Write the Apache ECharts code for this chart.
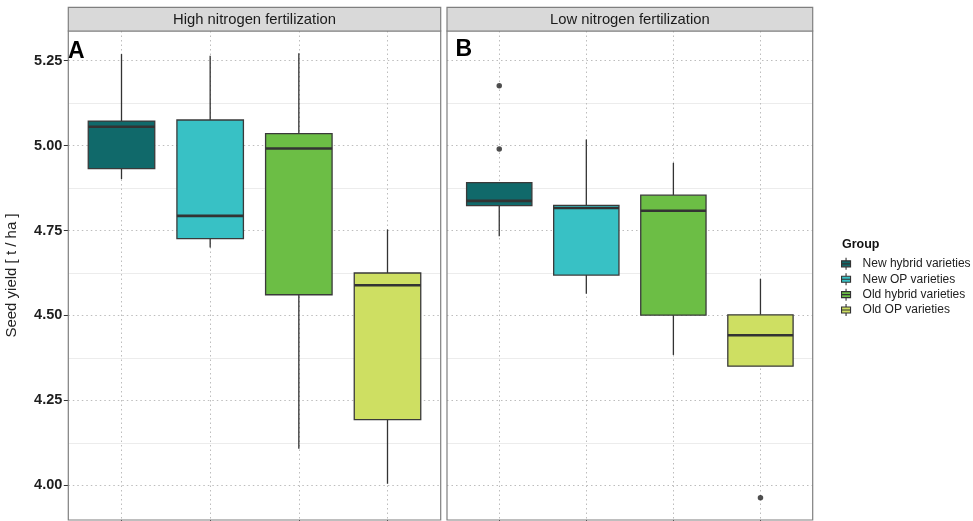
<!DOCTYPE html>
<html>
<head>
<meta charset="utf-8">
<script src="https://cdn.jsdelivr.net/npm/echarts@6/dist/echarts.min.js"></script>
<style>html,body{margin:0;padding:0;background:#fff;}#chart{width:973px;height:521px;}</style>
</head>
<body>
<div id="chart"></div>
<script>
// ---- data ----
const groups = ['New hybrid varieties', 'New OP varieties', 'Old hybrid varieties', 'Old OP varieties'];
const groupColors = ['#10696A', '#38C1C5', '#6CBE45', '#CEDF62'];
const panels = ['High nitrogen fertilization', 'Low nitrogen fertilization'];
const panelTags = ['A', 'B'];
// [min, Q1, median, Q3, max] per group
const highBoxes = [
  [4.901, 4.932, 5.055, 5.072, 5.269],
  [4.700, 4.726, 4.793, 5.075, 5.264],
  [4.108, 4.561, 4.991, 5.035, 5.271],
  [4.005, 4.194, 4.589, 4.625, 4.753]
];
const lowBoxes = [
  [4.733, 4.823, 4.837, 4.891, 4.891],
  [4.564, 4.619, 4.816, 4.824, 5.018],
  [4.384, 4.501, 4.808, 4.854, 4.949],
  [4.351, 4.351, 4.442, 4.502, 4.608]
];
// outliers: [group index, value]
const highOutliers = [];
const lowOutliers = [[0, 5.176], [0, 4.990], [3, 3.964]];
const yTicks = [4.00, 4.25, 4.50, 4.75, 5.00, 5.25];
const yMin = 3.8985, yMax = 5.3368;

const FONT = 'Liberation Sans, Arial, Helvetica, sans-serif';
const chart = echarts.init(document.getElementById('chart'), null, {renderer: 'canvas'});

const gridRects = [
  {left: 68.3, top: 31, width: 372.4, height: 489},
  {left: 447, top: 31, width: 365.7, height: 489}
];

function renderBox(params, api) {
  const x = api.value(0);
  const mn = api.value(1), q1 = api.value(2), md = api.value(3), q3 = api.value(4), mx = api.value(5);
  const w = api.size([0.75, 0])[0];
  const pMax = api.coord([x, mx]);
  const pQ3 = api.coord([x, q3]);
  const pMd = api.coord([x, md]);
  const pQ1 = api.coord([x, q1]);
  const pMin = api.coord([x, mn]);
  const color = api.visual('color');
  const cx = pMd[0];
  return {
    type: 'group',
    children: [
      {type: 'line', shape: {x1: cx, y1: pMax[1], x2: cx, y2: pQ3[1]}, style: {stroke: '#333', lineWidth: 1.3}},
      {type: 'line', shape: {x1: cx, y1: pQ1[1], x2: cx, y2: pMin[1]}, style: {stroke: '#333', lineWidth: 1.3}},
      {type: 'rect', shape: {x: cx - w / 2, y: pQ3[1], width: w, height: pQ1[1] - pQ3[1]},
       style: {fill: color, stroke: '#3a3a3a', lineWidth: 1.3}},
      {type: 'line', shape: {x1: cx - w / 2, y1: pMd[1], x2: cx + w / 2, y2: pMd[1]}, style: {stroke: '#333', lineWidth: 2.6}}
    ]
  };
}

const xAxes = [], yAxes = [], series = [];
[highBoxes, lowBoxes].forEach(function (boxes, p) {
  xAxes.push({
    type: 'value', gridIndex: p, min: 0.4, max: 4.6, minInterval: 1, maxInterval: 1,
    axisLine: {show: false},
    axisTick: {show: true, length: 4, lineStyle: {color: '#333'}, customValues: [1, 2, 3, 4]},
    axisLabel: {show: false},
    splitLine: {show: true, lineStyle: {color: '#bdbdbd', width: 1, type: [1.5, 3]}}
  });
  yAxes.push({
    type: 'value', gridIndex: p, min: yMin, max: yMax, minInterval: 0.25, maxInterval: 0.25,
    name: p === 0 ? 'Seed yield [ t / ha ]' : '',
    nameLocation: 'middle', nameGap: 49, nameRotate: 90,
    nameTextStyle: {fontFamily: FONT, fontSize: 15, color: '#222'},
    axisLine: {show: false},
    axisTick: {show: p === 0, length: 4.5, lineStyle: {color: '#333', width: 1}, customValues: yTicks},
    axisLabel: {show: p === 0, customValues: yTicks, margin: 6, fontFamily: FONT, fontSize: 14.5, fontWeight: 'bold', color: '#1e1e1e',
      formatter: function (v) { return Number(v).toFixed(2); }},
    splitLine: {show: true, lineStyle: {color: '#bdbdbd', width: 1, type: [1.5, 3]}},
    minorTick: {show: false, splitNumber: 2},
    minorSplitLine: {show: true, lineStyle: {color: '#ececec', width: 1}}
  });
  boxes.forEach(function (b, g) {
    series.push({
      type: 'custom', name: groups[g], xAxisIndex: p, yAxisIndex: p,
      itemStyle: {color: groupColors[g]},
      encode: {x: 0, y: [1, 2, 3, 4, 5]},
      renderItem: renderBox,
      data: [[g + 1].concat(b)],
      z: 3
    });
  });
  const outs = p === 0 ? highOutliers : lowOutliers;
  series.push({
    type: 'scatter', name: 'outliers' + p, xAxisIndex: p, yAxisIndex: p,
    symbolSize: 5.5, itemStyle: {color: '#222'},
    data: outs.map(function (o) { return [o[0] + 1, o[1]]; }),
    z: 4
  });
});

const graphics = [];
gridRects.forEach(function (r, p) {
  graphics.push({
    type: 'rect', z: 100, silent: true,
    shape: {x: r.left, y: r.top, width: r.width, height: r.height},
    style: {fill: 'none', stroke: '#7f7f7f', lineWidth: 1.2}
  });
  graphics.push({
    type: 'rect', z: 100, silent: true,
    shape: {x: r.left, y: 7.3, width: r.width, height: r.top - 7.3},
    style: {fill: '#D9D9D9', stroke: '#7f7f7f', lineWidth: 1.2}
  });
  graphics.push({
    type: 'text', z: 101, silent: true,
    style: {x: r.left + r.width / 2, y: 19.5, text: panels[p], fill: '#1a1a1a',
      font: '14.8px ' + FONT, textAlign: 'center', textVerticalAlign: 'middle'}
  });
});
graphics.push({
  type: 'text', z: 101, silent: true,
  style: {x: 68, y: 51.5, text: panelTags[0], fill: '#000', font: 'bold 23px ' + FONT, textAlign: 'left', textVerticalAlign: 'middle'}
});
graphics.push({
  type: 'text', z: 101, silent: true,
  style: {x: 455.5, y: 50, text: panelTags[1], fill: '#000', font: 'bold 23px ' + FONT, textAlign: 'left', textVerticalAlign: 'middle'}
});
graphics.push({
  type: 'text', z: 101, silent: true,
  style: {x: 842, y: 244.7, text: 'Group', fill: '#111', font: 'bold 12.5px ' + FONT, textAlign: 'left', textVerticalAlign: 'middle'}
});

chart.setOption({
  animation: false,
  backgroundColor: '#fff',
  grid: gridRects.map(function (r) {
    return {left: r.left, top: r.top, width: r.width, height: r.height, containLabel: false, outerBoundsMode: 'none', show: false};
  }),
  xAxis: xAxes,
  yAxis: yAxes,
  legend: {
    data: groups,
    orient: 'vertical', left: 841, top: 257.3, padding: 0,
    itemWidth: 9, itemHeight: 12, itemGap: 2.3,
    selectedMode: false,
    icon: 'path://M4.5,0V3M0,3H9V9H0ZM0,6H9M4.5,9V12',
    itemStyle: {borderColor: '#333', borderWidth: 1.1},
    textStyle: {fontFamily: FONT, fontSize: 12, color: '#222', padding: [0, 0, 0, 7]}
  },
  series: series,
  graphic: graphics
});
</script>
</body>
</html>
